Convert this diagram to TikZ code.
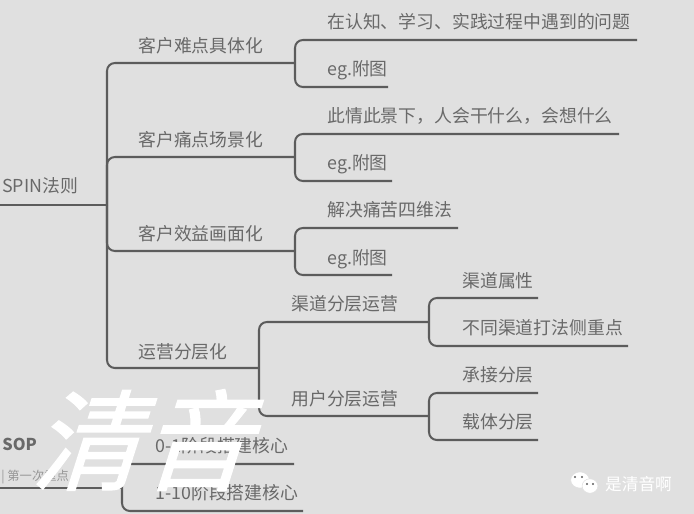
\documentclass[tikz,border=0pt]{standalone}
\usepackage{fontspec}
\setmainfont{Noto Sans CJK SC}
\newfontfamily\markfont[FakeBold=1.2]{Noto Sans CJK SC}
\usepackage{tikz}
\usetikzlibrary{shapes.geometric}
\definecolor{mapbg}{RGB}{224, 224, 224}
\definecolor{mapline}{RGB}{92, 92, 92}
\definecolor{maptext}{RGB}{105, 105, 105}
\tikzset{
    lbl/.style={anchor=west,inner sep=0pt,text=maptext,text height=9.5pt,text depth=1.2pt,font=\fontsize{10.15pt}{12pt}\selectfont},
    branch/.style={draw=mapline,line width=1.15pt,rounded corners=4.5pt},
    stamp/.style={inner sep=0pt,text=white},
    bubble/.style={ellipse,fill=white,draw=mapbg,line width=0.3pt,inner sep=0pt},
    eye/.style={circle,fill=mapline,inner sep=0pt,minimum size=1.2pt},
}

\begin{document}
\begin{tikzpicture}[x=0.02cm,y=-0.02cm]
\fill[mapbg] (0,0) rectangle (694,514);
\useasboundingbox (0,0) rectangle (694,514);

% Line ends
\foreach \name/\x/\y in {rootL/0/205,rootJ/107/205,
    hardJ/295/63,painJ/295/157,gainJ/295/251,opsJ/259/368,
    askE/637/40,hardEgE/388/87,sceneE/619/134,painEgE/392/181,fourE/458/228,gainEgE/392/275,
    chanJ/429/322,userJ/429/416,attrE/538/298,focusE/628/346,holdE/538/393,carryE/538/440,
    sopL/0/488,sopJ/122/488,zeroE/294/464,tenE/303/511} {
    \coordinate (\name) at (\x,\y);
}

% Labels
\foreach \name/\x/\y/\txt in {root/2/185/SPIN法则,
    hard/138/45/客户难点具体化,pain/138/139/客户痛点场景化,gain/138/233/客户效益画面化,ops/138/351/运营分层化,
    ask/327/21/在认知、学习、实践过程中遇到的问题,hardEg/327/68/eg.附图,
    scene/327/115/此情此景下，人会干什么，会想什么,painEg/327/162/eg.附图,
    four/327/209/解决痛苦四维法,gainEg/327/257/eg.附图,
    chan/291/303/渠道分层运营,user/291/398/用户分层运营,
    attr/462/280/渠道属性,focus/462/327/不同渠道打法侧重点,hold/462/374/承接分层,carry/462/421/载体分层,
    zero/155/445/0-1阶段搭建核心,ten/155/492/1-10阶段搭建核心} {
    \node[lbl] (\name) at (\x,\y) {\txt};
}
\node[lbl,font=\fontsize{9.3pt}{11pt}\selectfont\bfseries] (sop) at (2,443) {SOP};
\node[lbl,text=maptext!70,font=\fontsize{7pt}{8pt}\selectfont] (sopSub) at (1,473) {| 第一次重点};

% Root and first level
\draw[branch] (rootL) -- (rootJ);
\draw[branch] (hardJ) -| (rootJ) |- (opsJ);
\draw[branch] (rootJ) |- (painJ);
\draw[branch] (rootJ) |- (gainJ);

% Second level
\foreach \join/\up/\down in {hardJ/askE/hardEgE,painJ/sceneE/painEgE,gainJ/fourE/gainEgE,
    opsJ/chanJ/userJ,chanJ/attrE/focusE,userJ/holdE/carryE} {
    \draw[branch] (\up) -| (\join) |- (\down);
}

% SOP part
\draw[branch] (sopL) -- (sopJ);
\draw[branch] (zeroE) -| (sopJ) |- (tenE);

% Stamp
\node[stamp,font=\fontsize{62pt}{66pt}\markfont,xslant=0.32] (mark) at (153,440) {清音};
\node[stamp,font=\fontsize{9.5pt}{11pt}\selectfont] (wechat) at (638.5,484) {是清音啊};

% Chat icon
\node[bubble,minimum width=10.6pt,minimum height=9.2pt] (chatBig) at (580,480) {};
\node[bubble,minimum width=9pt,minimum height=8.2pt] (chatSmall) at (590,486) {};
\foreach \name/\x/\y in {eyeA/575/477,eyeB/582/477,eyeC/587/484,eyeD/593/484} {
    \node[eye] (\name) at (\x,\y) {};
}
\end{tikzpicture}
\end{document}
